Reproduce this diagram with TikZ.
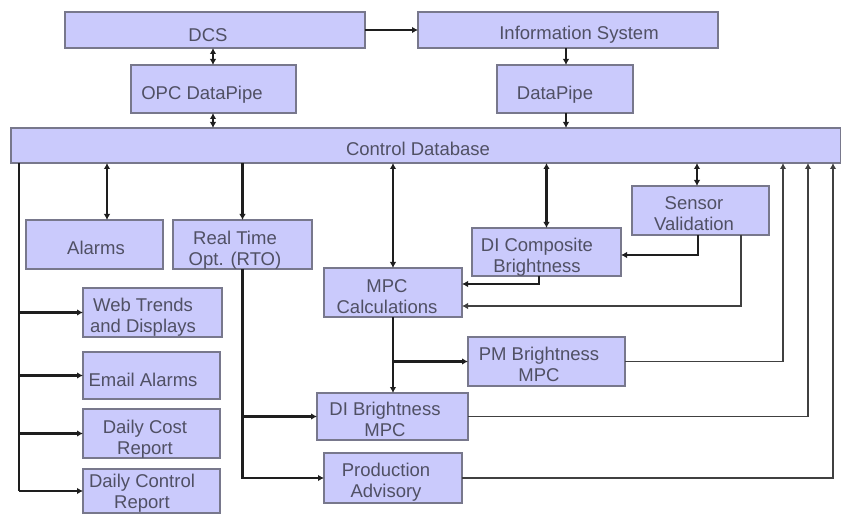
\documentclass[tikz,border=0pt]{standalone}
\usepackage{fontspec}
\setmainfont{Liberation Sans}
\usetikzlibrary{arrows.meta}

\definecolor{boxfill}{RGB}{202,202,252}
\definecolor{boxline}{RGB}{120,120,140}
\definecolor{txtcol}{RGB}{80,80,100}
\definecolor{wirecol}{RGB}{30,30,30}

% \blockbox{name}{x1}{y1}{x2}{y2}: an empty block spanning the given corners
\newcommand\blockbox[5]{%
  \node[box, minimum width={(#4-#2)*1bp}, minimum height={(#5-#3)*1bp}]
    (#1) at ({(#2+#4)/2},{(#3+#5)/2}) {};}
\newcommand\twolines[2]{#1\\\strut#2}

\begin{document}
\begin{tikzpicture}[x=1bp,y=-1bp,
  box/.style={draw=boxline, fill=boxfill, line width=1.3bp, inner sep=0pt, outer sep=0pt},
  lbl/.style={inner sep=0pt, text=txtcol, align=center,
    font=\fontsize{18.5bp}{21bp}\selectfont, execute at begin node=\strut},
  wire/.style={draw=wirecol, line width=2.2bp},
  feedwire/.style={draw=wirecol!85!white, line width=1.7bp},
  >={Latex[length=6bp,width=6.5bp]}]

\useasboundingbox (0,0) rectangle (841,515);

% blocks
\blockbox{dcs}{65}{12}{365}{48}
\blockbox{info}{418}{12}{718}{48}
\blockbox{opc}{131}{65}{296}{113}
\blockbox{dp}{497}{65}{633}{113}
\blockbox{db}{11}{128}{841}{163}
\blockbox{alarms}{26}{220}{163}{269}
\blockbox{rto}{173}{220}{312}{269}
\blockbox{web}{83}{288}{222}{337}
\blockbox{email}{83}{352}{220}{399}
\blockbox{cost}{83}{409}{220}{458}
\blockbox{ctrl}{83}{469}{220}{513}
\blockbox{mpc}{324}{268}{462}{317}
\blockbox{comp}{472}{228}{621}{276}
\blockbox{sensor}{632}{186}{769}{235}
\blockbox{pm}{468}{337}{625}{386}
\blockbox{dib}{317}{393}{468}{440}
\blockbox{prod}{324}{453}{462}{503}

% labels
\node[lbl] (dcs-t)    at (208,37.3)  {DCS};
\node[lbl] (info-t)   at (579,35.8)  {Information System};
\node[lbl] (opc-t)    at (202,95.8)  {OPC DataPipe};
\node[lbl] (dp-t)     at (555,95.8)  {DataPipe};
\node[lbl] (db-t)     at (418,151.8) {Control Database};
\node[lbl] (alarms-t) at (96,250.8)  {Alarms};
\node[lbl] (rto-t)    at (235,251.3) {\twolines{Real Time}{Opt. (RTO)}};
\node[lbl] (web-t)    at (143,318.3) {\twolines{Web Trends}{and Displays}};
\node[lbl] (email-t)  at (143,381.8) {Email Alarms};
\node[lbl] (cost-t)   at (145,440.3) {\twolines{Daily Cost}{Report}};
\node[lbl] (ctrl-t)   at (142,494.3) {\twolines{Daily Control}{Report}};
\node[lbl] (mpc-t)    at (387,299.3) {\twolines{MPC}{Calculations}};
\node[lbl] (comp-t)   at (537,258.3) {\twolines{DI Composite}{Brightness}};
\node[lbl] (sensor-t) at (694,216.3) {\twolines{Sensor}{Validation}};
\node[lbl] (pm-t)     at (539,367.3) {\twolines{PM Brightness}{MPC}};
\node[lbl] (dib-t)    at (385,422.3) {\twolines{DI Brightness}{MPC}};
\node[lbl] (prod-t)   at (386,483.3) {\twolines{Production}{Advisory}};

% column positions of the connectors
\coordinate (xopc) at (213,0);
\coordinate (xdp)  at (566,0);
\coordinate (xbus) at (19,0);
\coordinate (xal)  at (107,0);
\coordinate (xsen) at (697,0);
\coordinate (cm)   at (539,284);
\coordinate (sc)   at (698,255);
\coordinate (sm)   at (741,306);
\coordinate (r1)   at (783,0);
\coordinate (r2)   at (808,0);
\coordinate (r3)   at (833,0);

% top section
\draw[wire,->]  (dcs.east) -- (info.west);
\draw[wire,<->] (dcs.south -| xopc) -- (opc.north -| xopc);
\draw[wire,<->] (opc.south -| xopc) -- (db.north -| xopc);
\draw[wire,->]  (info.south -| xdp) -- (dp.north -| xdp);
\draw[wire,->]  (dp.south -| xdp) -- (db.north -| xdp);

% reporting bus on the left
\draw[wire] (db.south -| xbus) -- (ctrl.west -| xbus);
\draw[wire,->] (web.west -| xbus) -- (web.west);
\draw[wire,->] (email.west -| xbus) -- (email.west);
\draw[wire,->] (cost.west -| xbus) -- (cost.west);
\draw[wire,->] (ctrl.west -| xbus) -- (ctrl.west);

\draw[wire,<->] (db.south -| xal) -- (alarms.north -| xal);
\draw[wire,->]  (db.south -| rto) -- (rto.north);
\draw[wire,->]  (rto.south) |- (prod.west);
\draw[wire,->]  (rto.south |- dib.west) -- (dib.west);

% control calculations
\draw[wire,<->] (db.south -| mpc) -- (mpc.north);
\draw[wire,<->] (db.south -| comp) -- (comp.north);
\draw[wire,<->] (db.south -| xsen) -- (sensor.north -| xsen);
\draw[wire,->]  (comp.south -| cm) -- (cm) -- (cm -| mpc.east);
\draw[wire,->]  (sensor.south -| sc) -- (sc) -- (sc -| comp.east);
\draw[feedwire,->] (sensor.south -| sm) -- (sm) -- (sm -| mpc.east);
\draw[wire,->]  (mpc.south) -- (mpc.south |- dib.north);
\draw[wire,->]  (mpc.south |- pm.west) -- (pm.west);

% results written back to the database
\draw[feedwire,->] (pm.east) -| (r1 |- db.south);
\draw[feedwire,->] (dib.east) -| (r2 |- db.south);
\draw[feedwire,->] (prod.east) -| (r3 |- db.south);
\end{tikzpicture}
\end{document}
